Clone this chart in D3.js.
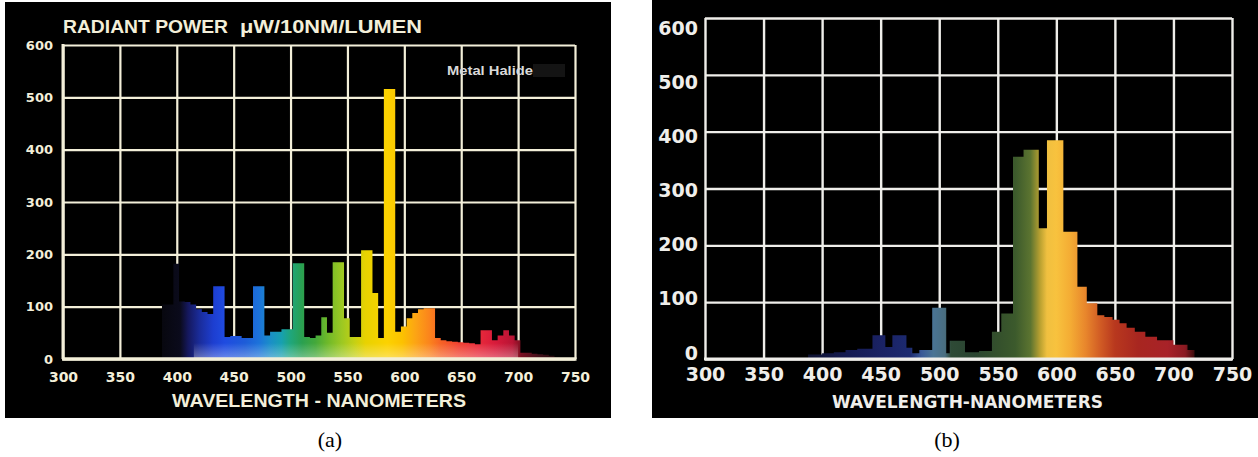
<!DOCTYPE html>
<html>
<head>
<meta charset="utf-8">
<script src="https://cdn.jsdelivr.net/npm/d3@7"></script>
<style>
  body { margin: 0; background: #fff; }
  svg { display: block; }
</style>
</head>
<body>
<div id="chart"></div>
<script>
// tick values shared by both panels
var xTicks = [300, 350, 400, 450, 500, 550, 600, 650, 700, 750];
var yTicks = [0, 100, 200, 300, 400, 500, 600];

// (a) metal halide: left edge of each bar (nm) and radiant power
var edgesA = [387, 392, 397, 402, 407, 412, 417, 422, 427, 432,
              437, 442, 447, 452, 457, 462, 467, 472, 477, 482,
              487, 492, 497, 502, 507, 512, 517, 522, 527, 532,
              537, 542, 547, 552, 557, 562, 567, 572, 577, 582,
              587, 592, 597, 602, 607, 612, 617, 622, 627, 632,
              637, 642, 647, 652, 657, 662, 667, 672, 677, 682,
              687, 692, 697, 702, 707, 712, 717, 722, 727, 732];
var powerA = [104, 104, 182, 110, 109, 104, 95, 90, 86, 139,
              139, 42, 44, 44, 40, 40, 139, 139, 45, 52,
              52, 57, 57, 183, 183, 42, 40, 45, 80, 50,
              185, 185, 78, 42, 42, 208, 208, 126, 40, 516,
              516, 52, 62, 78, 88, 95, 97, 97, 40, 36,
              34, 33, 32, 31, 30, 28, 55, 55, 36, 45,
              55, 45, 36, 12, 12, 10, 9, 8, 6, 4];
var endA = 737;

// (b): left edge of each bar (nm) and radiant power
var edgesB = [388, 400, 410, 420, 430, 443, 454, 460, 472, 477,
              483, 494, 506, 509, 522, 534, 545, 553, 563, 572,
              585, 592, 606, 618, 626, 635, 641, 648, 654, 660,
              667, 676, 686, 700, 712];
var powerB = [8, 10, 12, 16, 18, 42, 21, 42, 20, 10,
              16, 90, 10, 32, 12, 14, 48, 80, 356, 368,
              230, 385, 224, 127, 98, 77, 74, 69, 63, 55,
              48, 39, 33, 25, 16];
var endB = 718;

// colour of the light along the wavelength axis
var spectrumA = [[385, '#07070d'], [403, '#0b0b1c'], [410, '#15185e'], [420, '#1a2c9a'],
                 [432, '#1d3ed0'], [442, '#1f4be0'], [460, '#1d5cd8'], [472, '#1c72da'],
                 [482, '#1a8ec8'], [492, '#17a0b0'], [500, '#1fa67c'], [510, '#2aa050'],
                 [522, '#44a83a'], [532, '#6cb82a'], [545, '#9cc822'], [556, '#c4d014'],
                 [566, '#e8d200'], [585, '#fcd200'], [598, '#fcc200'], [610, '#fca414'],
                 [622, '#fb841c'], [632, '#f66224'], [648, '#f04030'], [665, '#e82a3a'],
                 [680, '#d81a3a'], [695, '#b81434'], [703, '#781020'], [718, '#44101a'],
                 [737, '#1a0808']];
var spectrumB = [[388, '#0e1230'], [420, '#141a50'], [450, '#1a2264'], [475, '#1c2a70'],
                 [485, '#3a5a98'], [495, '#4a7494'], [505, '#4a6e80'], [510, '#2e4a36'],
                 [530, '#2a4430'], [550, '#34502c'], [565, '#3c5a2c'], [578, '#5c7430'],
                 [586, '#b8a030'], [592, '#f0c040'], [600, '#f8c23e'], [612, '#f4ac34'],
                 [625, '#e8862c'], [638, '#d05a24'], [650, '#b8381e'], [670, '#a82620'],
                 [695, '#a82228'], [710, '#8a1a22'], [718, '#3a0c0c']];

var cream = '#f3efd9';

var svg = d3.select('#chart').append('svg')
    .attr('width', 1258)
    .attr('height', 457)
    .style('background-color', '#fff');

var defs = svg.append('defs');

// horizontal gradient in user space so colours follow the x scale
function spectrum(id, x, stops) {
    var lo = stops[0][0], hi = stops[stops.length - 1][0];
    var grad = defs.append('linearGradient')
        .attr('id', id)
        .attr('gradientUnits', 'userSpaceOnUse')
        .attr('x1', x(lo)).attr('x2', x(hi))
        .attr('y1', 0).attr('y2', 0);
    grad.selectAll('stop')
        .data(stops)
        .enter()
        .append('stop')
        .attr('offset', function (d) { return (d[0] - lo) / (hi - lo); })
        .attr('stop-color', function (d) { return d[1]; });
}

// stepped outline from bar edges + values
function steps(edges, values, end) {
    var pts = edges.map(function (e, i) { return [e, values[i]]; });
    pts.push([end, 0]);
    return pts;
}

function styleAxis(g, stroke, width, font) {
    g.select('.domain').remove();
    g.selectAll('line').attr('stroke', stroke).attr('stroke-width', width);
    g.selectAll('text').attr('fill', stroke).style('font', font);
}

// ---------- panel (a) ----------
var xA = d3.scaleLinear().domain([300, 750]).range([63, 575]);
var yA = d3.scaleLinear().domain([0, 600]).range([359, 45]);

var panelA = svg.append('g');
panelA.append('rect')
    .attr('x', 5).attr('y', 2)
    .attr('width', 606).attr('height', 416)
    .attr('fill', '#000');

var gxA = panelA.append('g')
    .attr('transform', 'translate(0,' + yA(0) + ')')
    .call(d3.axisBottom(xA).tickValues(xTicks).tickSize(yA(600) - yA(0)).tickPadding(13));
styleAxis(gxA, cream, 2.2, 'bold 14px "DejaVu Sans"');

var gyA = panelA.append('g')
    .attr('transform', 'translate(' + xA(300) + ',0)')
    .call(d3.axisLeft(yA).tickValues(yTicks).tickSize(xA(300) - xA(750)).tickPadding(10));
styleAxis(gyA, cream, 2.2, 'bold 13px "DejaVu Sans"');

spectrum('specA', xA, spectrumA);

// light fade at the foot of the bars (not under the near-black violet part)
var glow = defs.append('linearGradient')
    .attr('id', 'glowA')
    .attr('gradientUnits', 'userSpaceOnUse')
    .attr('x1', 0).attr('x2', 0)
    .attr('y1', yA(0)).attr('y2', yA(0) - 16);
glow.append('stop').attr('offset', 0).attr('stop-color', '#fff').attr('stop-opacity', 0.35);
glow.append('stop').attr('offset', 1).attr('stop-color', '#fff').attr('stop-opacity', 0);

defs.append('clipPath')
    .attr('id', 'glowClip')
    .append('rect')
    .attr('x', xA(415)).attr('y', yA(600))
    .attr('width', xA(700) - xA(415)).attr('height', yA(0) - yA(600));

var areaA = d3.area()
    .curve(d3.curveStepAfter)
    .x(function (d) { return xA(d[0]); })
    .y0(yA(0))
    .y1(function (d) { return yA(d[1]); });

panelA.append('path')
    .datum(steps(edgesA, powerA, endA))
    .attr('d', areaA)
    .attr('fill', 'url(#specA)');
panelA.append('path')
    .datum(steps(edgesA, powerA, endA))
    .attr('d', areaA)
    .attr('clip-path', 'url(#glowClip)')
    .attr('fill', 'url(#glowA)');

// frame
panelA.append('line')
    .attr('x1', xA(300) - 1).attr('x2', xA(750) + 1.5)
    .attr('y1', yA(0)).attr('y2', yA(0))
    .attr('stroke', cream).attr('stroke-width', 3.5);
panelA.append('line')
    .attr('x1', xA(300)).attr('x2', xA(300))
    .attr('y1', yA(600) - 1).attr('y2', yA(0))
    .attr('stroke', cream).attr('stroke-width', 3);

panelA.append('text')
    .attr('x', 63).attr('y', 33)
    .attr('textLength', 165).attr('lengthAdjust', 'spacingAndGlyphs')
    .attr('fill', cream)
    .style('font', 'bold 18px "Liberation Sans"')
    .text('RADIANT POWER');
panelA.append('text')
    .attr('x', 240).attr('y', 33)
    .attr('textLength', 182).attr('lengthAdjust', 'spacingAndGlyphs')
    .attr('fill', cream)
    .style('font', 'bold 18px "Liberation Sans"')
    .text('\u03bcW/10NM/LUMEN');

panelA.append('rect')
    .attr('x', 533).attr('y', 64)
    .attr('width', 32).attr('height', 13)
    .attr('fill', '#141414');
panelA.append('text')
    .attr('x', 447).attr('y', 75)
    .attr('textLength', 86).attr('lengthAdjust', 'spacingAndGlyphs')
    .attr('fill', '#d9d9d9')
    .style('font', 'bold 13px "Liberation Sans"')
    .text('Metal Halide');

panelA.append('text')
    .attr('x', 172).attr('y', 407)
    .attr('textLength', 294).attr('lengthAdjust', 'spacingAndGlyphs')
    .attr('fill', cream)
    .style('font', 'bold 18px "Liberation Sans"')
    .text('WAVELENGTH - NANOMETERS');

// ---------- panel (b) ----------
var xB = d3.scaleLinear().domain([300, 750]).range([705, 1232]);
var yB = d3.scaleLinear().domain([0, 600]).range([359, 18]);
// the printed labels sit a little off the grid in the photo
var yLabelB = d3.scaleLinear().domain([0, 600]).range([353, 28]);
var white = '#efeeea';

var panelB = svg.append('g');
panelB.append('rect')
    .attr('x', 652).attr('y', 0)
    .attr('width', 606).attr('height', 418)
    .attr('fill', '#000');

var gxB = panelB.append('g')
    .attr('transform', 'translate(0,' + yB(0) + ')')
    .call(d3.axisBottom(xB).tickValues(xTicks).tickSize(yB(600) - yB(0)).tickPadding(9));
styleAxis(gxB, white, 2.4, 'bold 19px "DejaVu Sans"');

var gyB = panelB.append('g')
    .attr('transform', 'translate(' + xB(300) + ',0)')
    .call(d3.axisLeft(yB).tickValues(yTicks).tickSize(xB(300) - xB(750)).tickFormat(''));
styleAxis(gyB, white, 2.4, 'bold 19px "DejaVu Sans"');

var gyLabB = panelB.append('g')
    .attr('transform', 'translate(' + xB(300) + ',0)')
    .call(d3.axisLeft(yLabelB).tickValues(yTicks).tickSize(0).tickPadding(7));
styleAxis(gyLabB, white, 0, 'bold 19px "DejaVu Sans"');

spectrum('specB', xB, spectrumB);

var areaB = d3.area()
    .curve(d3.curveStepAfter)
    .x(function (d) { return xB(d[0]); })
    .y0(yB(0))
    .y1(function (d) { return yB(d[1]); });

panelB.append('path')
    .datum(steps(edgesB, powerB, endB))
    .attr('d', areaB)
    .attr('fill', 'url(#specB)');

panelB.append('line')
    .attr('x1', xB(300) - 1).attr('x2', xB(750) + 1)
    .attr('y1', yB(0)).attr('y2', yB(0))
    .attr('stroke', white).attr('stroke-width', 3);

panelB.append('text')
    .attr('x', 832).attr('y', 408)
    .attr('textLength', 271).attr('lengthAdjust', 'spacingAndGlyphs')
    .attr('fill', white)
    .style('font', 'bold 17px "DejaVu Sans"')
    .text('WAVELENGTH-NANOMETERS');

// sub-figure captions
svg.selectAll('text.caption')
    .data([['(a)', 330], ['(b)', 947]])
    .enter()
    .append('text')
    .attr('class', 'caption')
    .attr('x', function (d) { return d[1]; })
    .attr('y', 447)
    .attr('text-anchor', 'middle')
    .attr('fill', '#000')
    .style('font', '22px "Liberation Serif"')
    .text(function (d) { return d[0]; });
</script>
</body>
</html>
